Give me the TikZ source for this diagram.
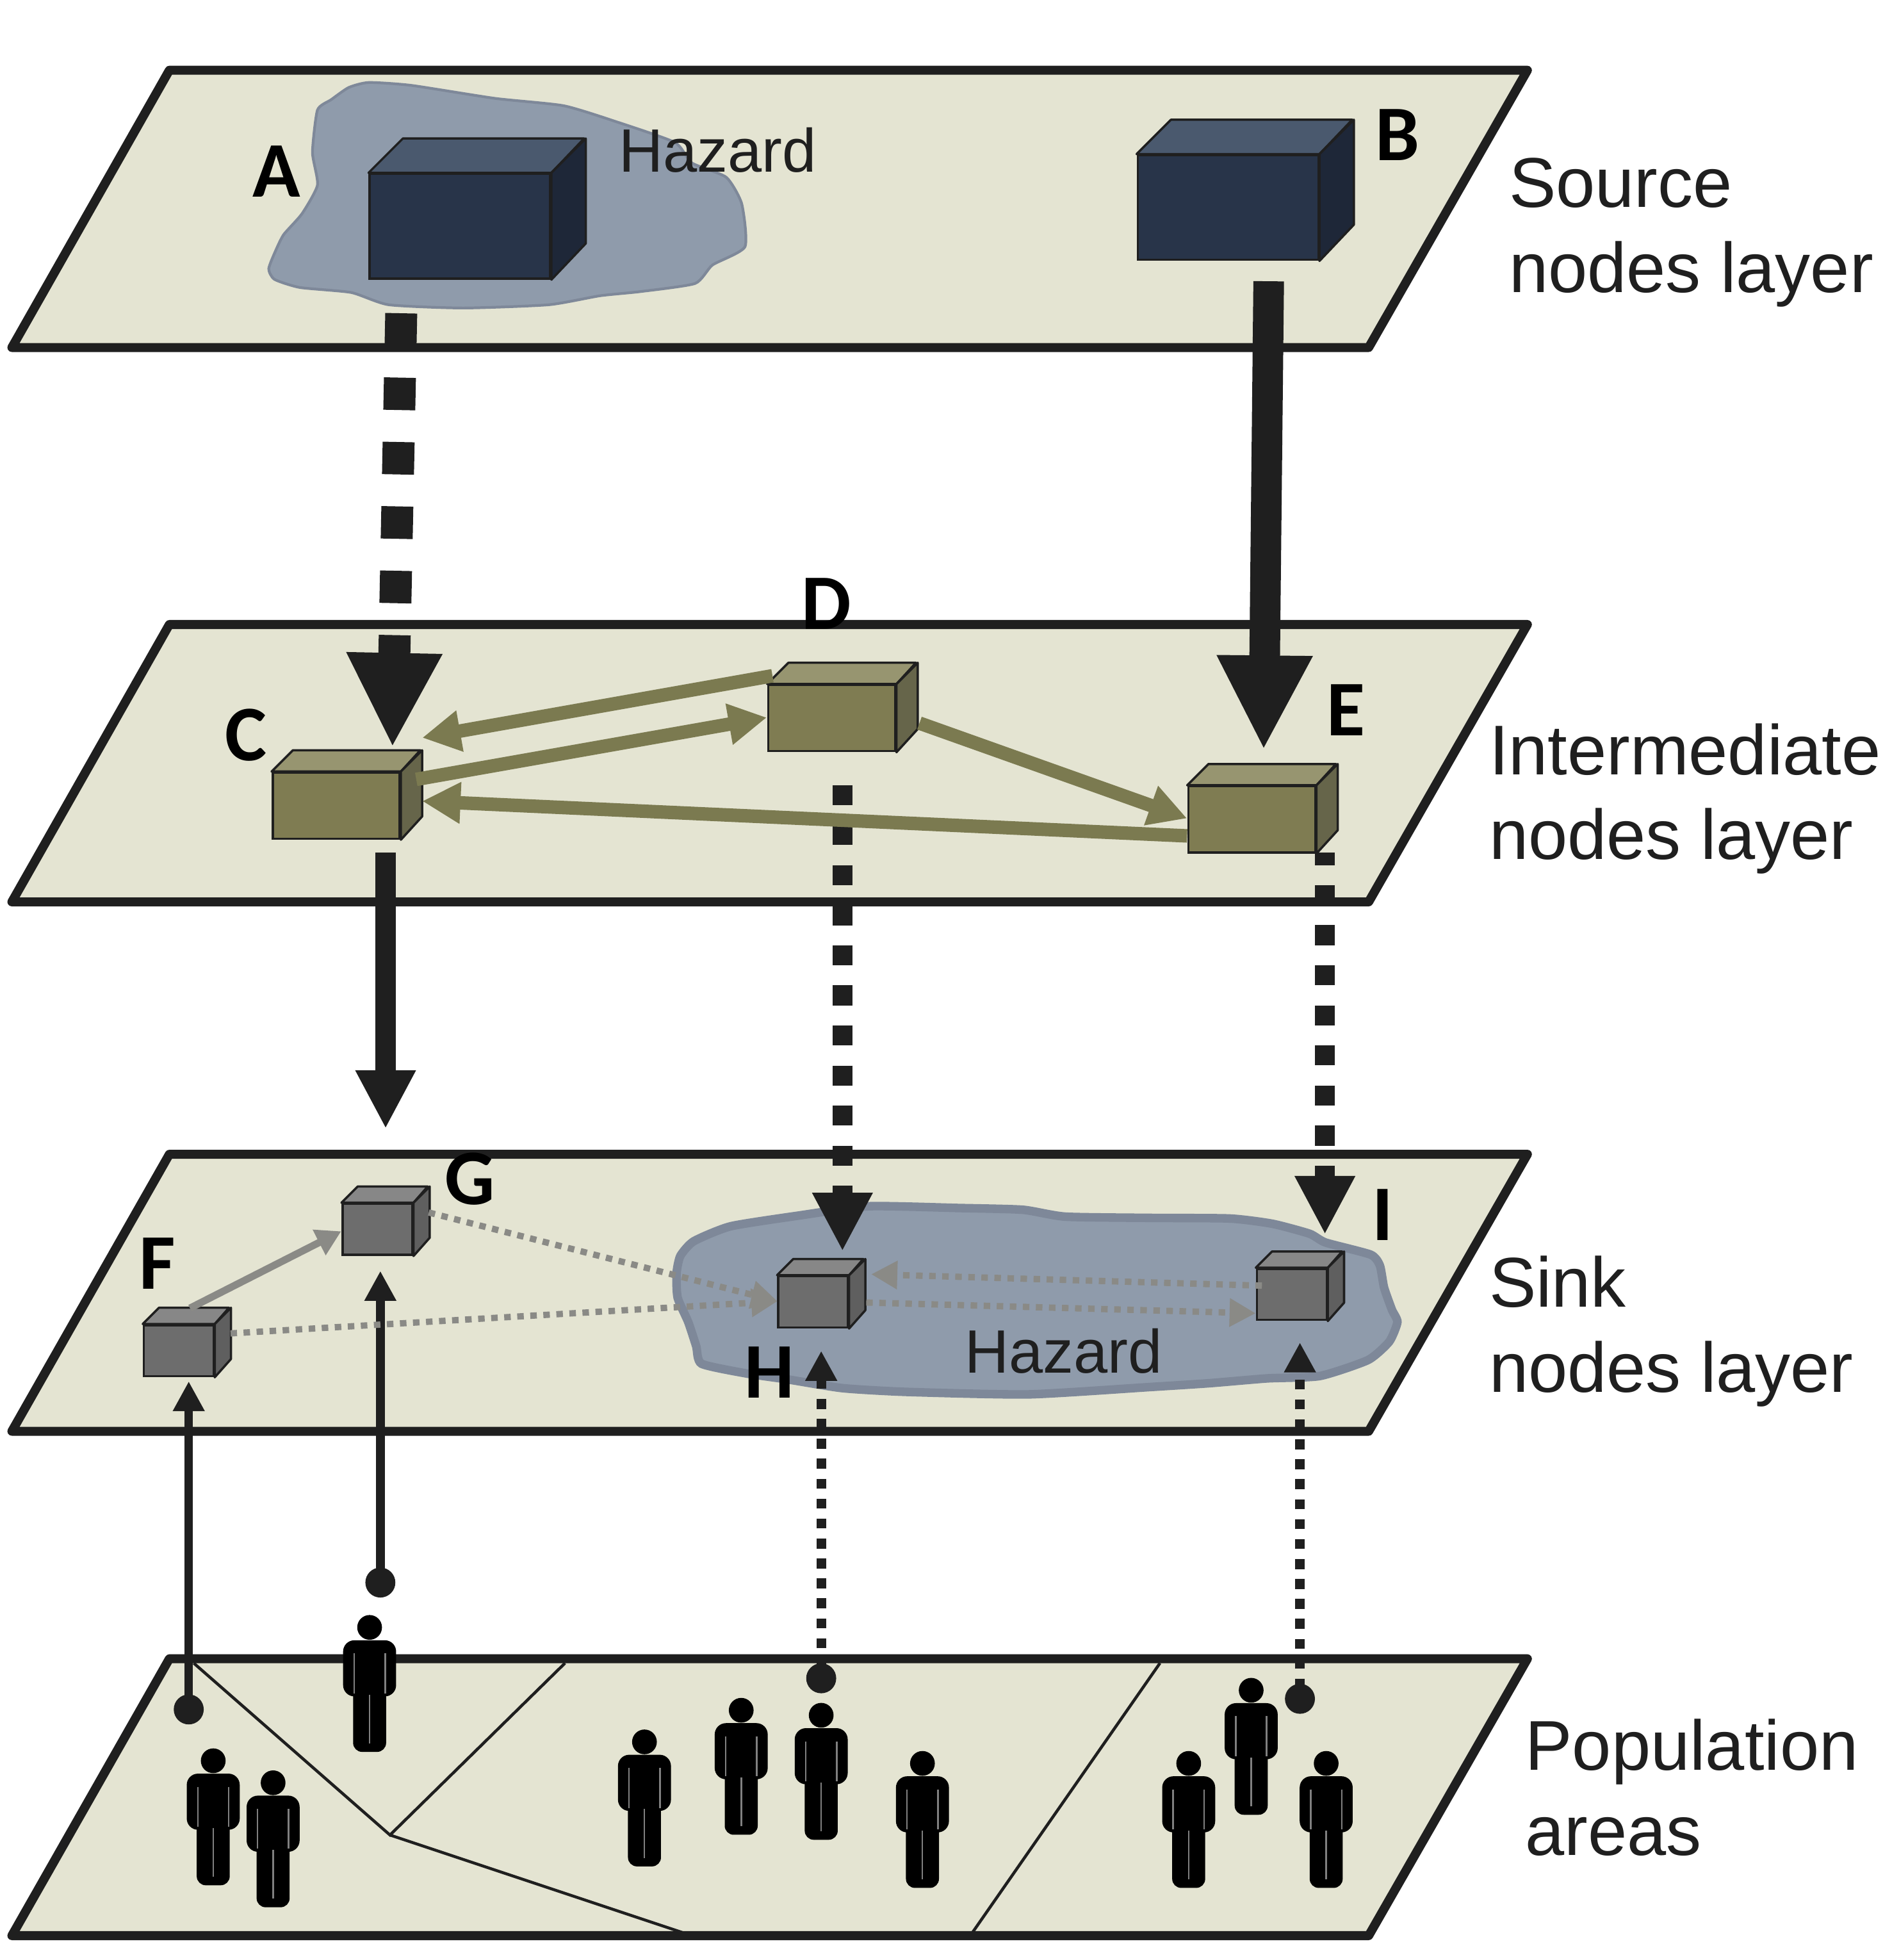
\documentclass[tikz,border=0pt]{standalone}
\usepackage{fontspec}
\setmainfont{Liberation Sans}
\newfontfamily\letterfont{Carlito}
\usetikzlibrary{arrows.meta}

\definecolor{plateFill}{HTML}{E4E4D2}
\definecolor{ink}{HTML}{1F1F1F}
\definecolor{hazardFill}{HTML}{8F9BAB}
\definecolor{hazardEdge}{HTML}{7E8899}
\definecolor{oliveLine}{HTML}{7B7A50}
\definecolor{grayLine}{HTML}{8A8A86}
\definecolor{boxNavy}{HTML}{283449}
\definecolor{boxNavyTop}{HTML}{4A596E}
\definecolor{boxNavySide}{HTML}{1E2738}
\definecolor{boxOlive}{HTML}{7F7C52}
\definecolor{boxOliveTop}{HTML}{979570}
\definecolor{boxOliveSide}{HTML}{66654A}
\definecolor{boxGray}{HTML}{6D6D6D}
\definecolor{boxGrayTop}{HTML}{878787}
\definecolor{boxGraySide}{HTML}{5F5F5F}

\tikzset{
  plate/.style={draw=ink,fill=plateFill,line width=4pt,line join=round},
  hazard/.style={draw=hazardEdge,fill=hazardFill},
  hazardtext/.style={font=\fontsize{27.2}{32}\selectfont,text=ink,inner sep=0pt},
  layertext/.style={font=\fontsize{31.3}{37.8}\selectfont,text=ink,align=left,anchor=west,inner sep=0pt},
  letter/.style={font=\letterfont\bfseries\fontsize{35}{40}\selectfont,inner sep=0pt},
  bigsolid/.style={draw=ink,line width=13.6pt,-{Triangle[length=42pt,width=39.5pt]}},
  bigdash/.style={draw=ink,line width=14.2pt,dash pattern=on 14.4pt off 14.2pt,-{Triangle[length=42pt,width=39.5pt]}},
  midsolid/.style={draw=ink,line width=8.9pt,-{Triangle[length=26pt,width=25pt]}},
  middash/.style={draw=ink,line width=8.9pt,dash pattern=on 8.9pt off 8.9pt,-{Triangle[length=26pt,width=25pt]}},
  upsolid/.style={draw=ink,line width=3.8pt,{Circle[length=13.3pt]}-{Triangle[length=13.3pt,width=13.3pt]}},
  updash/.style={draw=ink,line width=4.3pt,dash pattern=on 4.43pt off 4.43pt,{Circle[length=13.3pt]}-{Triangle[length=13.3pt,width=13.3pt]}},
  olive/.style={draw=oliveLine,line width=6pt,-{Triangle[length=17pt,width=17.4pt]}},
  graysolid/.style={draw=grayLine,line width=3.2pt,-{Triangle[length=11pt,width=12pt]}},
  graydot/.style={draw=grayLine,line width=2.8pt,dash pattern=on 2.9pt off 2.9pt,-{Triangle[length=11.6pt,width=12pt]}},
  person/.pic={
    \fill[black] (0,9.2) circle (9.9);
    \fill[black,rounded corners=5] (-21.2,64.4) -- (-21.2,19.5) -- (21.2,19.5) -- (21.2,64.4) -- cycle;
    \fill[black,rounded corners=4] (-13.2,50) rectangle (13.2,108.8);
    \draw[gray,line width=.7pt] (-12.4,30) -- (-12.4,62) (12.4,30) -- (12.4,62) (0,63) -- (0,102);
  },
}

% front face is the node, top and side are filled around it
\newcommand{\cuboid}[9]{%
  \node[draw=ink,fill=#7,line width=1pt,inner sep=0pt,minimum width=#4*.5532pt,minimum height=#5*.5532pt] (#1) at (#2,#3) {};
  \draw[ink,line width=1pt,line join=round,fill=#8] (#1.north west) -- ++(#6,-#6) -- ++(#4,0) -- (#1.north east) -- cycle;
  \draw[ink,line width=1pt,line join=round,fill=#9] (#1.north east) -- ++(#6,-#6) -- ++(0,#5) -- (#1.south east) -- cycle;
}

\begin{document}
\begin{tikzpicture}[x=0.19515mm,y=-0.19515mm]
  \useasboundingbox (0,0) rectangle (1513.2,1568);
  %.
  \draw[plate] (9.5,278) -- (135.5,56.2) -- (1222,56.2) -- (1095,278) -- cycle;
  \draw[plate] (9.5,721.5) -- (135.5,499.6) -- (1222,499.6) -- (1095,721.5) -- cycle;
  \draw[plate] (9.5,1145) -- (135.5,923.4) -- (1222,923.4) -- (1095,1145) -- cycle;
  \draw[plate] (9.5,1548.5) -- (135.5,1327) -- (1222,1327) -- (1095,1548.5) -- cycle;
  %.
  \draw[hazard,line width=1.2pt] plot[smooth cycle,tension=.35] coordinates {
    (295,66) (329,68.3) (396,78.7) (451,84.6) (494,97.7) (540,114) (553.6,130.4) (581,141.8) (593.4,163)
    (596,197.4) (570,212) (556,226.8) (512,233.3) (480,236.6) (439,243.8) (370.6,246.4) (311,243.8)
    (281,234) (240,230) (219.6,223.5) (215,215) (220.5,200.6) (227,187.6) (241.6,171) (254,148) (250,122)
    (254,88) (265,79.7) (279,70)};
  \draw[hazard,line width=3.8pt] plot[smooth cycle,tension=.35] coordinates {
    (695,965) (767.3,966.4) (818.3,967.8) (852.3,973.3) (920.3,974.3) (984,974.8) (1018,979) (1047.8,987)
    (1060.5,994) (1096.6,1003.7) (1104,1012.5) (1107.3,1030) (1113.6,1047.8) (1118,1057.6) (1111.5,1073.3)
    (1094.5,1088) (1056,1100.8) (1013.8,1102.7) (967,1106.6) (920.3,1109.6) (822.6,1115.5) (725,1113.5)
    (674,1110.5) (631.4,1103.7) (597.4,1098.8) (561.3,1091) (557,1077) (550.6,1057.6) (542.1,1038)
    (541.3,1018.4) (544.3,1004.7) (555,993) (584.6,981) (640,972.3)};
  %.
  \coordinate (area0) at (155,1330.5);
  \coordinate (area1) at (312,1468);
  \coordinate (area2) at (452,1330.5);
  \coordinate (area3) at (546,1546);
  \coordinate (area4) at (928,1330.5);
  \coordinate (area5) at (778,1546);
  \draw[ink,line width=1.3pt] (area0) -- (area1) -- (area2) (area1) -- (area3) (area4) -- (area5);
  %.
  \foreach \px/\py in {295.7/1292.7,170.6/1399.4,218.5/1417,515.6/1384.3,593/1359,657/1363,738/1401.5,951/1401.5,1001/1343,1061/1401.5}
    \pic at (\px,\py) {person};
  %.
  \node[hazardtext] (hazardA) at (574,120) {Hazard};
  \node[hazardtext] (hazardB) at (851,1081) {Hazard};
  %.
  \coordinate (a1) at (321,250.6);
  \coordinate (c1) at (314,598);
  \coordinate (b1) at (1015,225);
  \coordinate (e1) at (1011,600);
  \coordinate (c2) at (308.5,682);
  \coordinate (g1) at (308.5,903);
  \coordinate (d1) at (674,628);
  \coordinate (h1) at (674,1001);
  \coordinate (e2) at (1060,682);
  \coordinate (i1) at (1060,987.6);
  \draw[bigdash] (a1) -- (c1);
  \draw[bigsolid] (b1) -- (e1);
  \draw[midsolid] (c2) -- (g1);
  \draw[middash] (d1) -- (h1);
  \draw[middash,dash phase=3.3pt] (e2) -- (i1);
  %.
  \coordinate (f2) at (151,1379.5);
  \coordinate (f3) at (151,1105);
  \coordinate (g2) at (304.3,1278);
  \coordinate (g3) at (304.3,1016.7);
  \coordinate (h2) at (657,1354.6);
  \coordinate (h3) at (657,1080.7);
  \coordinate (i2) at (1040,1371);
  \coordinate (i3) at (1040,1074);
  \draw[upsolid] (f2) -- (f3);
  \draw[upsolid] (g2) -- (g3);
  \draw[updash] (h2) -- (h3);
  \draw[updash] (i2) -- (i3);
  %.
  \cuboid{A}{368}{181}{145}{84}{27.5}{boxNavy}{boxNavyTop}{boxNavySide}
  \cuboid{B}{982.5}{166}{145}{84}{27.5}{boxNavy}{boxNavyTop}{boxNavySide}
  \cuboid{C}{269}{644.5}{102}{53}{17}{boxOlive}{boxOliveTop}{boxOliveSide}
  \cuboid{D}{665.5}{574.5}{102}{53}{17}{boxOlive}{boxOliveTop}{boxOliveSide}
  \cuboid{E}{1001.5}{655.5}{102}{53}{17}{boxOlive}{boxOliveTop}{boxOliveSide}
  \cuboid{F}{143}{1080.5}{56}{41}{13}{boxGray}{boxGrayTop}{boxGraySide}
  \cuboid{G}{302}{983.5}{56}{41}{13}{boxGray}{boxGrayTop}{boxGraySide}
  \cuboid{H}{650.5}{1041.5}{56}{41}{13}{boxGray}{boxGrayTop}{boxGraySide}
  \cuboid{I}{1033.5}{1035.5}{56}{41}{13}{boxGray}{boxGrayTop}{boxGraySide}
  %.
  \coordinate (d2) at (618,540.6);
  \coordinate (c3) at (337.8,590.2);
  \coordinate (c4) at (333,623.5);
  \coordinate (d3) at (613.5,574);
  \coordinate (d4) at (735.6,578.5);
  \coordinate (e3) at (949.7,654.7);
  \coordinate (e4) at (949.7,668.7);
  \coordinate (c5) at (337.8,640.9);
  \draw[olive] (d2) -- (c3);
  \draw[olive] (c4) -- (d3);
  \draw[olive] (d4) -- (e3);
  \draw[olive] (e4) -- (c5);
  %.
  \coordinate (f4) at (152,1046.5);
  \coordinate (g4) at (273,985);
  \coordinate (f5) at (184.4,1066.7);
  \coordinate (h4) at (622,1041);
  \coordinate (g5) at (343,970);
  \coordinate (h5) at (693,1042);
  \coordinate (i4) at (1004.6,1050.6);
  \coordinate (i5) at (1009.6,1028.5);
  \coordinate (h6) at (697,1019.4);
  \draw[graysolid] (f4) -- (g4);
  \draw[graydot] (f5) -- (h4);
  \draw[graydot] (g5) -- (h4);
  \draw[graydot] (h5) -- (i4);
  \draw[graydot] (i5) -- (h6);
  %.
  \node[letter] (labelA) at (221,137) {A};
  \node[letter] (labelB) at (1118,108) {B};
  \node[letter] (labelC) at (197,588) {C};
  \node[letter] (labelD) at (661,483) {D};
  \node[letter] (labelE) at (1077,568) {E};
  \node[letter] (labelF) at (125.8,1011) {F};
  \node[letter] (labelG) at (376,943) {G};
  \node[letter] (labelH) at (615.5,1098) {H};
  \node[letter] (labelI) at (1106,972) {I};
  %.
  \node[layertext] (sourcelayer) at (1207,186) {Source\\nodes layer};
  \node[layertext] (interlayer) at (1191,639) {Intermediate\\nodes layer};
  \node[layertext] (sinklayer) at (1191,1065) {Sink\\nodes layer};
  \node[layertext] (poplayer) at (1220,1430) {Population\\areas};
  %.
\end{tikzpicture}
\end{document}
